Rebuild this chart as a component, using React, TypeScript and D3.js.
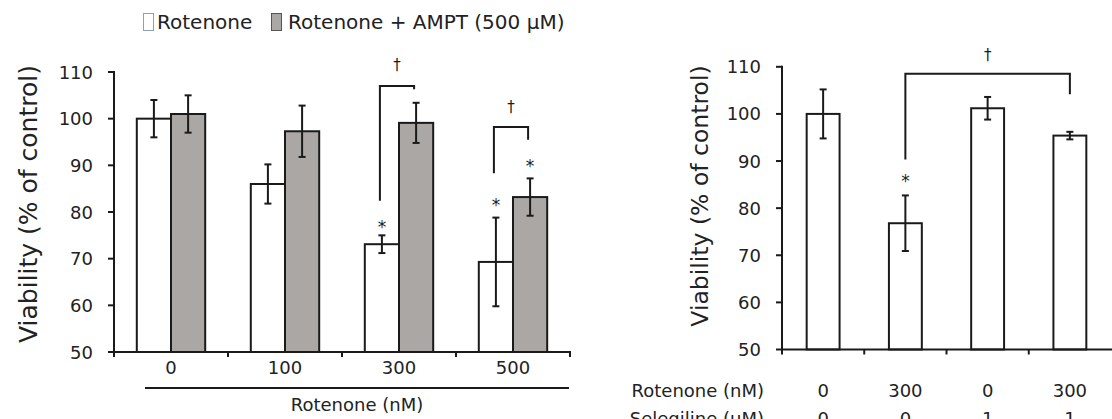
import React from "react";
import * as d3 from "d3";

const leftCategories = ["0", "100", "300", "500"];
const rotenoneOnly = [100, 86, 73.1, 69.3];
const rotenoneOnlyErr = [4, 4.2, 1.9, 9.5];
const rotenoneAmpt = [101, 97.3, 99.1, 83.2];
const rotenoneAmptErr = [4, 5.5, 4.3, 4];
const leftStars = [
  { group: 2, series: 0, value: 77.5 },
  { group: 3, series: 0, value: 82.2 },
  { group: 3, series: 1, value: 90.5 },
];

const rightRotenone = ["0", "300", "0", "300"];
const rightSelegiline = ["0", "0", "1", "1"];
const rightValues = [100, 76.8, 101.2, 95.4];
const rightErr = [5.2, 5.9, 2.4, 0.8];

const yTicks = [50, 60, 70, 80, 90, 100, 110];

const FONT = "'DejaVu Sans', Verdana, sans-serif";
const GRAY = "#aba7a5";
const INK = "#1a1a1a";

export default function App() {
  const LX = 114;
  const RX = 782;
  // Left panel scales
  const yL = d3.scaleLinear().domain([50, 110]).range([352, 72]);
  const xL = d3.scaleBand().domain(leftCategories).range([LX, LX + 456]).paddingInner(0.4).paddingOuter(0.2);
  const sub = d3.scaleBand().domain(["a", "b"]).range([0, xL.bandwidth()]);
  const subCenter = (g: number, s: number) =>
    (xL(leftCategories[g]) as number) + (sub(s === 0 ? "a" : "b") as number) + sub.bandwidth() / 2;

  // Right panel scales
  const yR = d3.scaleLinear().domain([50, 110]).range([349.5, 66.8]);
  const rIdx = rightValues.map((_, i) => String(i));
  const xR = d3.scaleBand().domain(rIdx).range([RX, RX + 329]).paddingInner(0.6).paddingOuter(0.3);
  const rCenter = (i: number) => (xR(String(i)) as number) + xR.bandwidth() / 2;

  const errBar = (cx: number, top: number, bot: number, key: string) => (
    <g key={key} stroke={INK} strokeWidth={2}>
      <line x1={cx} x2={cx} y1={top} y2={bot} />
      <line x1={cx - 3.5} x2={cx + 3.5} y1={top} y2={top} />
      <line x1={cx - 3.5} x2={cx + 3.5} y1={bot} y2={bot} />
    </g>
  );

  const leftStep = xL.step();
  const leftBoundaries = [0, 1, 2, 3, 4].map((i) => LX + i * leftStep);
  const rightStep = xR.step();
  const rightBoundaries = [0, 1, 2, 3].map((i) => RX + i * rightStep);

  const bracket = (x1: number, x2: number, yTop: number, yL1: number, yL2: number, key: string) => (
    <path key={key} d={`M${x1},${yL1}V${yTop}H${x2}V${yL2}`} fill="none" stroke={INK} strokeWidth={2} />
  );

  return (
    <svg width={1112} height={419} style={{ position: "absolute", left: 0, top: 0, background: "#fff" }} fontFamily={FONT}>
      <rect width={1112} height={419} fill="#fff" />
      {/* Legend */}
      <rect x={143.5} y={13.5} width={10} height={17} fill="#fff" stroke="#8aa0bd" strokeWidth={1} />
      <text x={157} y={29} fontSize={20} fill="#222">Rotenone</text>
      <rect x={271.5} y={13.5} width={10} height={17} fill={GRAY} stroke="#555" strokeWidth={1} />
      <text x={288} y={29} fontSize={20} fill="#222">Rotenone + AMPT (500 μM)</text>

      {/* Left y axis */}
      <text transform={`translate(37,204) rotate(-90)`} textAnchor="middle" fontSize={25} fill="#222">
        Viability (% of control)
      </text>
      <line x1={LX} x2={LX} y1={yL(110) - 1} y2={yL(50) + 1} stroke={INK} strokeWidth={2} />
      {yTicks.map((t) => (
        <g key={"lt" + t}>
          <line x1={LX - 6} x2={LX} y1={yL(t)} y2={yL(t)} stroke={INK} strokeWidth={2} />
          <text x={LX - 21} y={yL(t) + 6.5} textAnchor="end" fontSize={18} fill="#222">{t}</text>
        </g>
      ))}

      {/* Left bars */}
      {leftCategories.map((c, g) => {
        const x0 = (xL(c) as number) + (sub("a") as number);
        const x1 = (xL(c) as number) + (sub("b") as number);
        return (
          <g key={"lb" + c}>
            <rect x={x0} y={yL(rotenoneOnly[g])} width={sub.bandwidth()} height={yL(50) - yL(rotenoneOnly[g])} fill="#fff" stroke={INK} strokeWidth={2} />
            <rect x={x1} y={yL(rotenoneAmpt[g])} width={sub.bandwidth()} height={yL(50) - yL(rotenoneAmpt[g])} fill={GRAY} stroke={INK} strokeWidth={2} />
            {errBar(subCenter(g, 0), yL(rotenoneOnly[g] + rotenoneOnlyErr[g]), yL(rotenoneOnly[g] - rotenoneOnlyErr[g]), "e0" + g)}
            {errBar(subCenter(g, 1), yL(rotenoneAmpt[g] + rotenoneAmptErr[g]), yL(rotenoneAmpt[g] - rotenoneAmptErr[g]), "e1" + g)}
          </g>
        );
      })}

      {/* Left x axis */}
      <line x1={LX - 1} x2={LX + 457} y1={yL(50)} y2={yL(50)} stroke={INK} strokeWidth={2} />
      {leftBoundaries.map((b, i) => (
        <line key={"lxt" + i} x1={b} x2={b} y1={yL(50)} y2={yL(50) + 5} stroke={INK} strokeWidth={2} />
      ))}
      {leftCategories.map((c) => (
        <text key={"lxl" + c} x={(xL(c) as number) + xL.bandwidth() / 2} y={374} textAnchor="middle" fontSize={18} fill="#222">{c}</text>
      ))}
      <line x1={145} x2={569} y1={388} y2={388} stroke={INK} strokeWidth={2} />
      <text x={(145 + 569) / 2} y={411} textAnchor="middle" fontSize={18} fill="#222">Rotenone (nM)</text>

      {/* Stars left */}
      {leftStars.map((s, i) => (
        <text key={"ls" + i} x={subCenter(s.group, s.series)} y={yL(s.value) + 9} textAnchor="middle" fontSize={17} fill="#222">*</text>
      ))}

      {/* Brackets left */}
      {bracket(subCenter(2, 0) - 2, subCenter(2, 1) - 2, yL(107), yL(82.4), yL(106.3), "br2")}
      <text x={(subCenter(2, 0) + subCenter(2, 1)) / 2 - 2} y={yL(110.4)} textAnchor="middle" fontSize={15} fill={INK}>†</text>
      {bracket(subCenter(3, 0) - 2, subCenter(3, 1) - 2, yL(98.2), yL(88.3), yL(95.5), "br3")}
      <text x={(subCenter(3, 0) + subCenter(3, 1)) / 2 - 2} y={yL(101.4)} textAnchor="middle" fontSize={15} fill={INK}>†</text>

      {/* Right y axis */}
      <text transform={`translate(708,196) rotate(-90)`} textAnchor="middle" fontSize={23.5} fill="#222">
        Viability (% of control)
      </text>
      <line x1={RX} x2={RX} y1={yR(110) - 1} y2={yR(50) + 1} stroke={INK} strokeWidth={2} />
      {yTicks.map((t) => (
        <g key={"rt" + t}>
          <line x1={RX - 6} x2={RX} y1={yR(t)} y2={yR(t)} stroke={INK} strokeWidth={2} />
          <text x={RX - 21} y={yR(t) + 6.5} textAnchor="end" fontSize={18} fill="#222">{t}</text>
        </g>
      ))}

      {/* Right bars */}
      {rightValues.map((v, i) => (
        <g key={"rb" + i}>
          <rect x={xR(String(i)) as number} y={yR(v)} width={xR.bandwidth()} height={yR(50) - yR(v)} fill="#fff" stroke={INK} strokeWidth={2} />
          {errBar(rCenter(i), yR(v + rightErr[i]), yR(v - rightErr[i]), "re" + i)}
        </g>
      ))}

      {/* Right x axis */}
      <line x1={RX - 1} x2={1112} y1={yR(50)} y2={yR(50)} stroke={INK} strokeWidth={2} />
      {rightBoundaries.map((b, i) => (
        <line key={"rxt" + i} x1={b} x2={b} y1={yR(50)} y2={yR(50) + 5} stroke={INK} strokeWidth={2} />
      ))}
      <text x={764} y={397} textAnchor="end" fontSize={18} fill="#222">Rotenone (nM)</text>
      <text x={764} y={425} textAnchor="end" fontSize={18} fill="#222">Selegiline (μM)</text>
      {rightRotenone.map((c, i) => (
        <text key={"rr" + i} x={rCenter(i)} y={397} textAnchor="middle" fontSize={18} fill="#222">{c}</text>
      ))}
      {rightSelegiline.map((c, i) => (
        <text key={"rs" + i} x={rCenter(i)} y={425} textAnchor="middle" fontSize={18} fill="#222">{c}</text>
      ))}

      {/* Right star and bracket */}
      <text x={rCenter(1)} y={yR(86.3) + 9} textAnchor="middle" fontSize={17} fill="#222">*</text>
      {bracket(rCenter(1), rCenter(3), yR(108.5), yR(90.3), yR(104.2), "rbr")}
      <text x={(rCenter(1) + rCenter(3)) / 2} y={yR(111.4)} textAnchor="middle" fontSize={15} fill={INK}>†</text>
    </svg>
  );
}
